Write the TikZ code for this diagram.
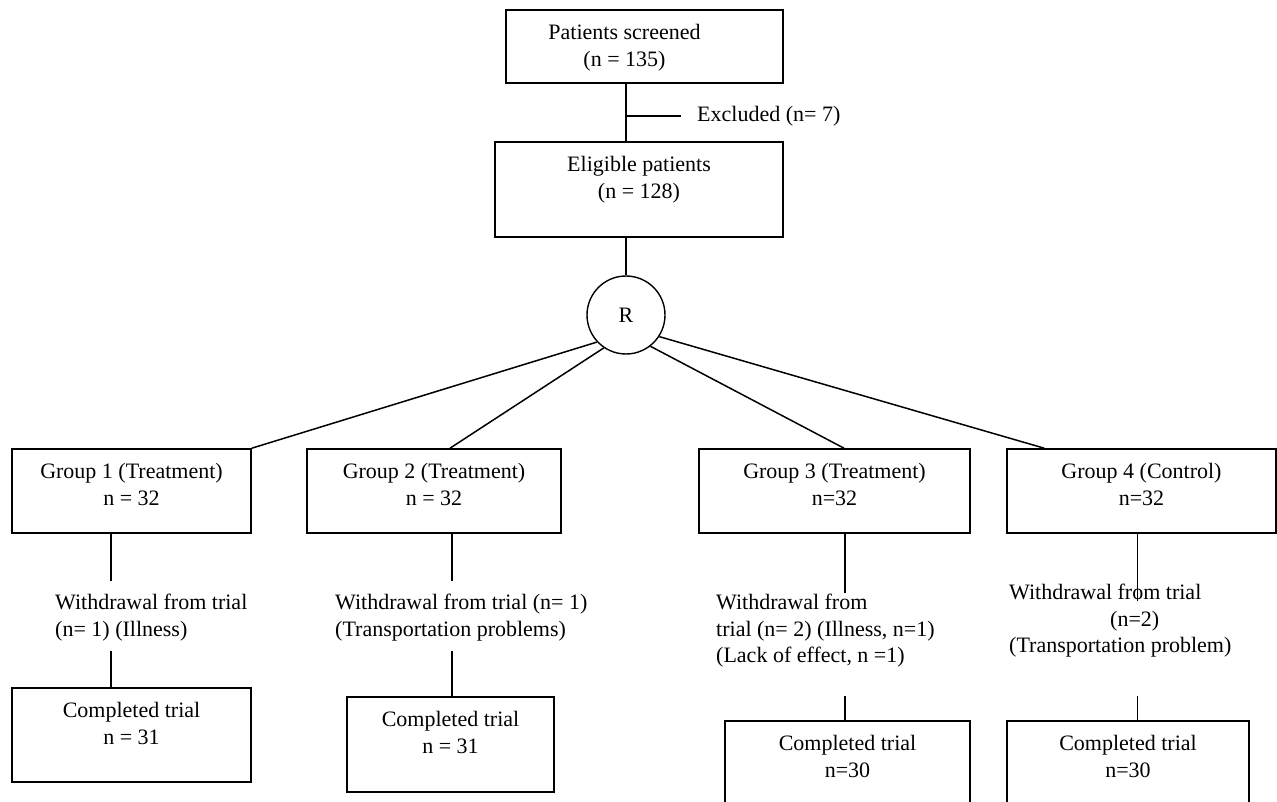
\documentclass[tikz,border=0pt]{standalone}
\usepackage{fontspec}
\setmainfont{Liberation Serif}
\usetikzlibrary{positioning}

\tikzset{
    box/.style={draw, line width=1.6pt, inner sep=0pt},
    boxtext/.style={align=center, inner sep=0pt, font=\fontsize{22}{26.4}\selectfont},
    note/.style={align=left, inner sep=0pt, anchor=north west, font=\fontsize{22}{26.4}\selectfont},
    rand/.style={circle, draw, line width=1.4pt, minimum size=78pt, inner sep=0pt, font=\fontsize{22}{26.4}\selectfont},
    link/.style={line width=1.5pt}
}

\begin{document}
\begin{tikzpicture}[x=1pt, y=-1pt]
    \useasboundingbox (0,0) rectangle (1277,802);
    \clip (0,0) rectangle (1277,802);

    % Screening and eligibility
    \node[box, minimum width=277pt, minimum height=73pt] (scr) at (644.5,46.5) {};
    \node[boxtext, below=15pt of scr.north, xshift=-20pt] (scrtxt) {Patients screened\\(n = 135)};
    \node[box, minimum width=288pt, minimum height=95pt] (elig) at (639,189.5) {};
    \node[boxtext, below=15pt of elig.north] (eligtxt) {Eligible patients\\(n = 128)};
    \node[rand] (R) at (626,315) {R};
    \node[boxtext, anchor=west] (excl) at (697,116) {Excluded (n= 7)};

    \draw[link] (scr.south -| R) -- (elig.north -| R);
    \draw[link] (excl.west -| R) -- ([xshift=-16pt]excl.west);
    \draw[link] (elig.south -| R) -- (R.north);

    % Group boxes
    \foreach \i/\cx/\w/\head/\num in {1/131.5/239/Group 1 (Treatment)/n = 32,
                                      2/434/254/Group 2 (Treatment)/n = 32,
                                      3/834.5/271/Group 3 (Treatment)/n=32,
                                      4/1141.5/269/Group 4 (Control)/n=32} {
        \node[box, minimum width=\w pt, minimum height=84pt] (g\i) at (\cx,491) {};
        \node[boxtext, below=15pt of g\i.north] (g\i txt) {\head\\\num};
    }

    % Completed boxes
    \foreach \i/\cx/\cy/\w/\h/\num in {1/131.5/735/239/94/n = 31,
                                       2/450.5/744.5/207/95/n = 31,
                                       3/847.5/768.5/245/95/n=30,
                                       4/1128/768.5/242/95/n=30} {
        \node[box, minimum width=\w pt, minimum height=\h pt] (c\i) at (\cx,\cy) {};
        \node[boxtext, below=15pt of c\i.north] (c\i txt) {Completed trial\\\num};
    }

    % Randomisation
    \draw[link] (R.223) -- (g1.north east);
    \draw[link] (R.236) -- ([xshift=16pt]g2.north);
    \draw[link] (R.308) -- ([xshift=9.5pt]g3.north);
    \draw[link] (R.327) -- ([xshift=38pt]g4.north west);

    % Withdrawals
    \node[note] (w1) at (55,594) {Withdrawal from trial\\(n= 1) (Illness)};
    \node[note] (w2) at (335,594) {Withdrawal from trial (n= 1)\\(Transportation problems)};
    \node[note] (w3) at (716,594) {Withdrawal from\\trial (n= 2) (Illness, n=1)\\(Lack of effect, n =1)};
    \node[note] (w4) at (1009,584) {Withdrawal from trial\\\hspace*{101pt}(n=2)\\(Transportation problem)};

    \draw[link] ([xshift=-20.5pt]g1.south) -- ++(0,47);
    \draw[link] ([xshift=18pt]g2.south) -- ++(0,47);
    \draw[link] ([xshift=10.5pt]g3.south) -- ++(0,59);
    \draw[link] ([xshift=-4pt]g4.south) -- ++(0,67);
    \draw[link] ([xshift=-20.5pt]c1.north) -- ++(0,-36);
    \draw[link] ([xshift=1.5pt]c2.north) -- ++(0,-45);
    \draw[link] ([xshift=-2.5pt]c3.north) -- ++(0,-24);
    \draw[link] ([xshift=9.5pt]c4.north) -- ++(0,-24);
\end{tikzpicture}
\end{document}
